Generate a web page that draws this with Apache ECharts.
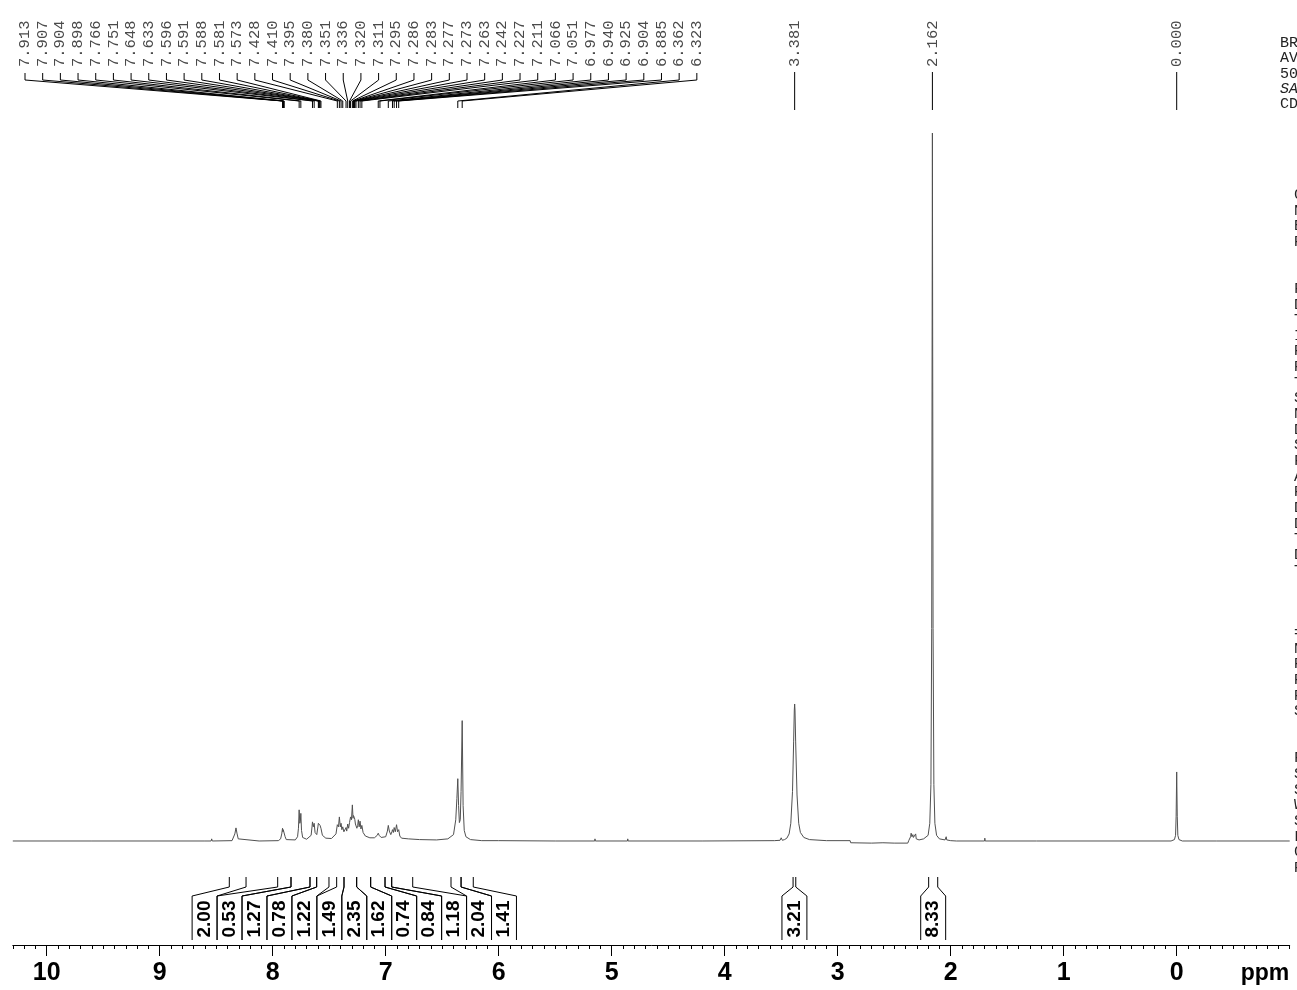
<!DOCTYPE html>
<html><head><meta charset="utf-8">
<script src="https://cdn.jsdelivr.net/npm/echarts@6/dist/echarts.min.js"></script>
<style>html,body{margin:0;padding:0;background:#fff;overflow:hidden}#c{width:1297px;height:990px}</style>
</head><body><div id="c"></div>
<script>
// ---- DATA ----
// spectrum points: [ppm, intensity] (tallest peak = 100)
const spectrum = [
 [10.3,0],[9.6,0],[8.6,0],[8.545,0],[8.54,0.3],[8.535,0],
 [8.36,0.05],[8.345,0.3],[8.335,1.0],[8.325,1.85],[8.315,1.0],[8.305,0.3],[8.29,0.05],
 [8.12,0],[8.115,0.25],[8.11,0],
 [7.95,0.05],[7.93,0.3],[7.92,1.0],[7.913,1.8],[7.909,1.3],[7.907,1.6],[7.904,1.8],[7.898,1.5],[7.89,0.6],[7.88,0.2],
 [7.80,0.15],[7.78,0.6],[7.772,1.8],[7.766,4.4],[7.760,2.5],[7.755,2.8],[7.751,3.9],[7.745,1.5],[7.735,0.5],
 [7.70,0.25],[7.66,0.8],[7.652,2.0],[7.648,2.7],[7.641,2.0],[7.633,2.5],[7.625,1.2],
 [7.61,0.9],[7.60,2.0],[7.596,2.5],[7.591,2.3],[7.588,2.4],[7.581,2.2],[7.573,1.8],[7.56,0.8],
 [7.53,0.4],[7.48,0.35],[7.44,1.0],[7.428,2.3],[7.418,2.0],[7.410,3.4],[7.402,2.0],[7.395,2.5],[7.388,1.6],[7.380,2.0],
 [7.37,1.3],[7.351,1.9],[7.345,1.4],[7.336,2.4],[7.328,1.8],[7.320,2.6],[7.315,2.4],[7.311,3.4],[7.303,3.0],
 [7.295,5.1],[7.289,3.2],[7.286,3.6],[7.283,3.4],[7.277,3.3],[7.273,3.0],[7.268,2.4],[7.263,2.6],[7.255,1.8],
 [7.248,2.2],[7.242,3.0],[7.235,2.0],[7.227,2.8],[7.219,1.7],[7.211,2.2],[7.20,1.2],[7.18,0.7],
 [7.14,0.45],[7.10,0.45],[7.075,0.8],[7.066,1.1],[7.058,0.8],[7.051,1.0],[7.04,0.5],
 [7.00,0.6],[6.985,1.4],[6.977,2.2],[6.968,1.4],[6.955,0.9],[6.945,1.3],[6.940,1.6],[6.932,1.2],[6.925,1.9],
 [6.915,1.3],[6.904,2.3],[6.895,1.3],[6.885,1.6],[6.875,0.7],[6.86,0.4],[6.80,0.3],[6.70,0.2],[6.55,0.15],
 [6.45,0.3],[6.40,0.9],[6.38,3.0],[6.370,6.0],[6.362,8.8],[6.355,5.0],[6.348,2.6],[6.340,3.0],[6.333,7.0],
 [6.323,17.0],[6.315,5.0],[6.305,1.5],[6.29,0.6],[6.25,0.2],[6.15,0.05],[6.0,0.05],
 [5.5,0],[5.15,0],[5.148,0.3],[5.145,0],[4.86,0],[4.858,0.3],[4.855,0],[4.2,0],
 [3.56,0.05],[3.51,0.1],[3.50,0.45],[3.49,0.1],[3.47,0.2],[3.45,0.4],[3.43,1.0],[3.415,2.5],[3.40,7.0],
 [3.39,14.0],[3.384,18.5],[3.381,19.35],[3.378,18.5],[3.372,14.0],[3.36,6.5],[3.345,2.5],[3.33,1.2],
 [3.30,0.5],[3.25,0.2],[3.1,0.05],[2.89,0.05],[2.885,-0.25],[2.7,-0.3],[2.6,-0.25],[2.5,-0.3],[2.38,-0.3],
 [2.37,0.1],[2.355,0.6],[2.35,1.1],[2.343,0.6],[2.335,0.9],[2.33,0.5],[2.32,0.7],[2.31,1.0],[2.305,0.3],
 [2.28,0.15],[2.24,0.3],[2.20,0.8],[2.185,2.5],[2.175,8],[2.168,30],[2.162,100],[2.156,30],[2.149,8],
 [2.14,2.5],[2.125,0.8],[2.10,0.3],[2.05,0.15],[2.04,0.6],[2.035,0.15],[2.0,0.05],[1.95,0],
 [1.70,0],[1.698,0.4],[1.695,0],[1.24,0],[1.235,0.15],[1.23,0],
 [0.05,0],[0.02,0.2],[0.01,0.8],[0.005,3.5],[0.000,9.75],[-0.005,3.5],[-0.01,0.8],[-0.02,0.2],[-0.05,0],
 [-0.35,0],[-0.352,0.2],[-0.355,0],[-1.0,0]
];
const peakGroupLabels = ['7.913','7.907','7.904','7.898','7.766','7.751','7.648','7.633','7.596','7.591',
 '7.588','7.581','7.573','7.428','7.410','7.395','7.380','7.351','7.336','7.320','7.311','7.295','7.286',
 '7.283','7.277','7.273','7.263','7.242','7.227','7.211','7.066','7.051','6.977','6.940','6.925','6.904',
 '6.885','6.362','6.323'];
const singlePeakLabels = ['3.381','2.162','0.000'];
const integralStart = [8.384,7.956,7.838,7.670,7.611,7.434,7.369,7.257,7.133,7.006,6.947,6.422,6.333,3.395,2.195];
const integralEnd   = [8.236,7.838,7.670,7.611,7.502,7.369,7.257,7.133,7.006,6.947,6.761,6.333,6.225,3.371,2.115];
const integralValues = ['2.00','0.53','1.27','0.78','1.22','1.49','2.35','1.62','0.74','0.84','1.18','2.04','1.41','3.21','8.33'];
const integralGroup = [0,0,0,0,0,0,0,0,0,0,0,0,0,1,2];
const tickLabels = [10,9,8,7,6,5,4,3,2,1,0];
const paramsTop = ['BRUKER','AVANCE','500','SAMPLE','CDCl3'];
const paramsList = ['Current Data Parameters','NAME','EXPNO','PROCNO','','',
 'F2 - Acquisition Parameters','Date_','Time','INSTRUM','PROBHD','PULPROG','TD','SOLVENT','NS','DS',
 'SWH','FIDRES','AQ','RG','DW','DE','TE','D1','TD0','','','','======== CHANNEL f1 ========','NUC1','P1',
 'PL1','PL1W','SFO1','','','F2 - Processing parameters','SI','SF','WDW','SSB','LB','GB','PC'];
</script>
<script>
const chart = echarts.init(document.getElementById('c'), null, {renderer:'canvas'});
const AXFONT = "'Liberation Sans Narrow','Liberation Sans',Arial,sans-serif";
chart.setOption({
  animation:false,
  backgroundColor:'#fff',
  grid:{left:12.8, right:7.3, top:133, bottom:45},
  xAxis:[{
    type:'value', inverse:true, min:-1, max:10.3,
    axisLine:{show:true, onZero:false, lineStyle:{color:'#000', width:1}},
    axisTick:{show:true, customValues:tickLabels, length:11, lineStyle:{color:'#000', width:1}},
    axisLabel:{show:true, customValues:tickLabels, margin:16, color:'#000', fontWeight:'bold',
      fontSize:25, fontFamily:AXFONT, formatter:v=>String(v)},
    splitLine:{show:false}
  },{
    type:'value', inverse:true, min:-1, max:10.3, interval:0.1, position:'bottom',
    axisLine:{show:false, onZero:false}, axisTick:{show:true, length:4, lineStyle:{color:'#000', width:1}},
    axisLabel:{show:false}, splitLine:{show:false}
  }],
  yAxis:{type:'value', min:-14.69, max:100, show:false},
  series:[{type:'line', xAxisIndex:0, data:spectrum, showSymbol:false, symbol:'none',
    lineStyle:{color:'#505050', width:1}, silent:true}]
});

const px = v => chart.convertToPixel({xAxisIndex:0}, v);
const g = [];
const LBLFONT = "15.5px 'Liberation Mono','Courier New',monospace";
const LINE = {stroke:'#000', lineWidth:1, fill:null};
// grouped peak labels
const LSTART = 25, LSTEP = 17.68;
peakGroupLabels.forEach((t,i)=>{
  const lx = LSTART + i*LSTEP, pv = px(parseFloat(t));
  g.push({type:'text', x:lx, y:67, rotation:Math.PI/2,
    style:{text:t, font:LBLFONT, fill:'#4a4a4a', align:'left', verticalAlign:'middle'}});
  g.push({type:'polyline', shape:{points:[[lx,73],[lx,80],[pv,101],[pv,108]]}, style:LINE});
});
singlePeakLabels.forEach(t=>{
  const pv = px(parseFloat(t));
  g.push({type:'text', x:pv, y:67, rotation:Math.PI/2,
    style:{text:t, font:LBLFONT, fill:'#4a4a4a', align:'left', verticalAlign:'middle'}});
  g.push({type:'polyline', shape:{points:[[pv,72],[pv,110]]}, style:LINE});
});
// integrals
const BW = 24.95;
const groups = {};
integralGroup.forEach((gid,i)=>{ (groups[gid] = groups[gid] || []).push(i); });
Object.values(groups).forEach(idx=>{
  let lo = Infinity, hi = -Infinity;
  idx.forEach(i=>{ [px(integralStart[i]), px(integralEnd[i])].forEach(x=>{lo=Math.min(lo,x);hi=Math.max(hi,x);}); });
  const n = idx.length, c = (lo+hi)/2 + (n>2?3:0);
  const d0 = c - n*BW/2;
  idx.forEach((i,j)=>{
    const xs = px(integralStart[i]), xe = px(integralEnd[i]);
    const dl = d0 + j*BW, dr = d0 + (j+1)*BW;
    g.push({type:'polyline', shape:{points:[[xs,877],[xs,887],[dl,896],[dl,940]]}, style:LINE});
    g.push({type:'polyline', shape:{points:[[xe,877],[xe,887],[dr,896],[dr,940]]}, style:LINE});
    g.push({type:'text', x:(dl+dr)/2, y:919, rotation:Math.PI/2,
      style:{text:integralValues[i], font:"bold 19px 'Liberation Sans',Arial,sans-serif", fill:'#000',
        align:'center', verticalAlign:'middle'}});
  });
});
// ppm unit label
g.push({type:'text', x:1265, y:974, style:{text:'ppm', font:"bold 23px 'Liberation Sans',Arial,sans-serif",
  fill:'#000', align:'center', verticalAlign:'middle'}});
// clipped parameter text at right edge
paramsTop.forEach((t,i)=>{
  g.push({type:'text', x:1280, y:43+i*15.3, style:{text:t,
    font:(i===3?'italic ':'')+"15px 'Liberation Mono','Courier New',monospace", fill:'#222',
    align:'left', verticalAlign:'middle'}});
});
paramsList.forEach((t,i)=>{
  if(!t) return;
  g.push({type:'text', x:1294, y:195+i*15.65, style:{text:t,
    font:"15px 'Liberation Mono','Courier New',monospace", fill:'#222', align:'left', verticalAlign:'middle'}});
});
chart.setOption({graphic:g});
</script>
</body></html>
